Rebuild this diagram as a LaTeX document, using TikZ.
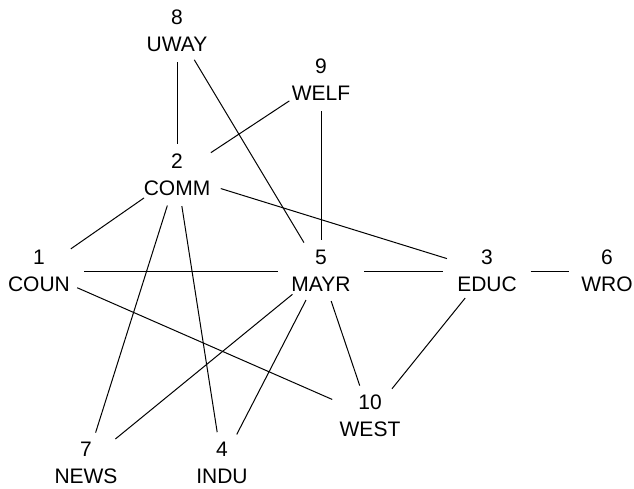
\documentclass[tikz,border=0pt]{standalone}
\usepackage{fontspec}
\setmainfont{Liberation Sans}
\usetikzlibrary{shapes.geometric}
\tikzset{
  actor/.style={ellipse,inner sep=1pt,align=center,font=\fontsize{21}{27}\selectfont},
  tie/.style={line width=1pt}
}
\begin{document}
\begin{tikzpicture}[x=1pt,y=-1pt]
    %% Frame
    \useasboundingbox (0,0) rectangle (634,489);
    %% Actors
    \node[actor] (UWAY) at (177,31)  {8\\UWAY};
    \node[actor] (WELF) at (321,80)  {9\\WELF};
    \node[actor] (COMM) at (177,175) {2\\COMM};
    \node[actor] (COUN) at (39,271)  {1\\COUN};
    \node[actor] (MAYR) at (321,271) {5\\MAYR};
    \node[actor] (EDUC) at (487,271) {3\\EDUC};
    \node[actor] (WRO)  at (607,271) {6\\WRO};
    \node[actor] (WEST) at (370,416) {10\\WEST};
    \node[actor] (NEWS) at (86,463)  {7\\NEWS};
    \node[actor] (INDU) at (222,463) {4\\INDU};
    %% Ties
    \draw[tie] (UWAY) -- (COMM);
    \draw[tie] (UWAY) -- (MAYR);
    \draw[tie] (WELF) -- (COMM);
    \draw[tie] (WELF) -- (MAYR);
    \draw[tie] (COMM) -- (COUN);
    \draw[tie] (COMM) -- (EDUC);
    \draw[tie] (COMM) -- (NEWS);
    \draw[tie] (COMM) -- (INDU);
    \draw[tie] (COUN) -- (MAYR);
    \draw[tie] (COUN) -- (WEST);
    \draw[tie] (MAYR) -- (EDUC);
    \draw[tie] (EDUC) -- (WRO);
    \draw[tie] (MAYR) -- (NEWS);
    \draw[tie] (MAYR) -- (INDU);
    \draw[tie] (MAYR) -- (WEST);
    \draw[tie] (EDUC) -- (WEST);
\end{tikzpicture}
\end{document}
